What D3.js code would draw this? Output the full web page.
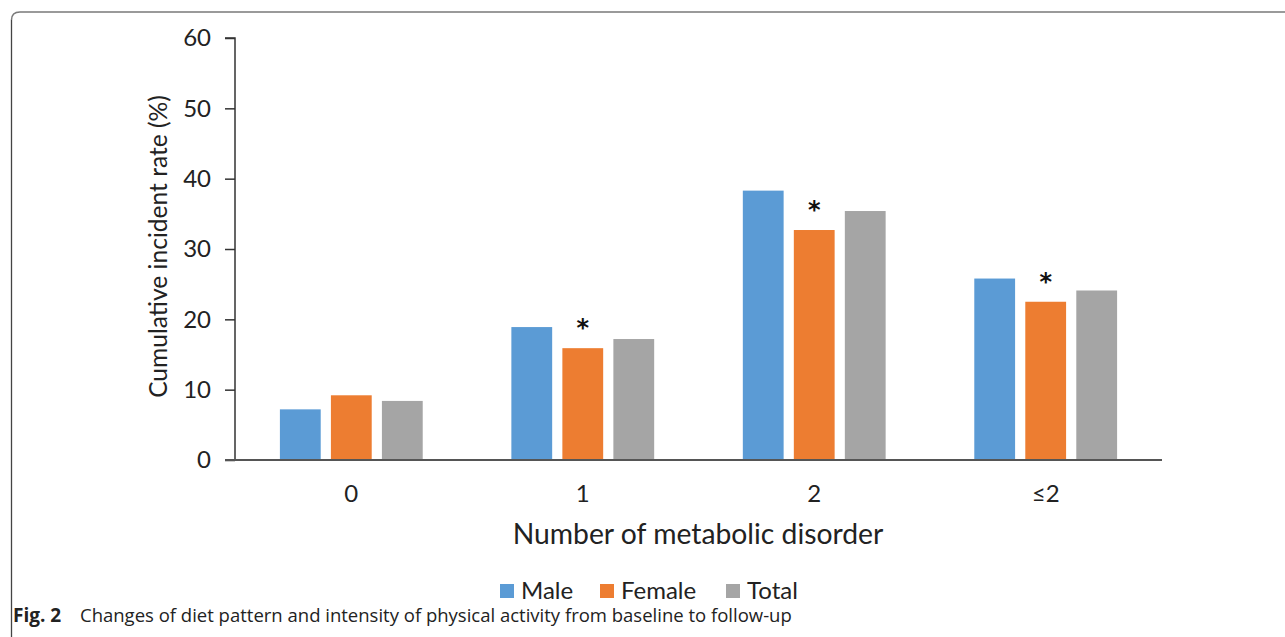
<!DOCTYPE html>
<html><head><meta charset="utf-8">
<script src="https://cdn.jsdelivr.net/npm/d3@7"></script>
<style>body{margin:0;background:#fff;}svg{display:block;}</style>
</head><body><svg id="c" width="1285" height="637"></svg>
<script>
const categories = ["0","1","2","≤2"];
const seriesNames = ["Male","Female","Total"];
const male = [7.2, 18.9, 38.3, 25.8];
const female = [9.2, 15.9, 32.7, 22.5];
const total = [8.4, 17.2, 35.4, 24.1];
const significant = [false, true, true, true];
const yTicks = [0,10,20,30,40,50,60];
const colors = ["#5b9bd5","#ed7d31","#a5a5a5"];

const svg = d3.select("#c");
const font = "Lato, 'Open Sans', sans-serif";
const L = 235, R = 1162, T = 38, B = 460;

function fit(sel, w){
  const base = +sel.attr("font-size");
  const len = sel.node().getComputedTextLength();
  if (len > 0) sel.attr("font-size", base * w / len);
  return sel;
}

// frame
svg.append("path").attr("d", "M11.5,20 Q11.5,12 20,12 L1285,12")
  .attr("fill","none").attr("stroke","#7a7a7a").attr("stroke-width",1.5);
svg.append("line").attr("x1",11.5).attr("x2",11.5).attr("y1",20).attr("y2",637)
  .attr("stroke","#444").attr("stroke-width",1.3);

const x0 = d3.scaleBand().domain(categories).range([L, R]).paddingInner(0.383).paddingOuter(0.194);
const x1 = d3.scaleBand().domain(seriesNames).range([0, x0.bandwidth()]).paddingInner(0.2);
const y = d3.scaleLinear().domain([0,60]).range([B, T]);

const data = categories.map((c,i)=>({c, vals:[male[i],female[i],total[i]], sig: significant[i]}));

const g = svg.append("g");
const grp = g.selectAll("g.grp").data(data).enter().append("g")
  .attr("transform", d=>`translate(${x0(d.c)},0)`);
grp.selectAll("rect").data(d=>d.vals.map((v,k)=>({v,k}))).enter().append("rect")
  .attr("x", d=>x1(seriesNames[d.k])).attr("width", x1.bandwidth())
  .attr("y", d=>y(d.v)).attr("height", d=>B - y(d.v)).attr("fill", d=>colors[d.k]);
grp.filter(d=>d.sig).append("text")
  .attr("x", x1("Female") + x1.bandwidth()/2)
  .attr("y", d=>y(d.vals[1]) - 12)
  .attr("text-anchor","middle").attr("font-family","'DejaVu Sans', sans-serif")
  .attr("font-weight","bold").attr("font-size",24).attr("fill","#111").text("*");

// y axis
const ya = d3.axisLeft(y).tickValues(yTicks).tickSize(10).tickPadding(14);
const yg = svg.append("g").attr("transform",`translate(${L},0)`).call(ya);
yg.select(".domain").attr("stroke","#333").attr("stroke-width",1.5).attr("d", `M-10,${T}H0V${B}`);
yg.selectAll(".tick line").attr("stroke","#333").attr("stroke-width",1.5);
yg.selectAll(".tick text").attr("font-family",font).attr("font-size",24).attr("fill","#222");

// x axis
const xa = d3.axisBottom(x0).tickSize(0).tickPadding(25);
const xg = svg.append("g").attr("transform",`translate(0,${B})`).call(xa);
xg.select(".domain").attr("stroke","#555").attr("stroke-width",2).attr("d", `M${L-10},0H${R}`);
xg.selectAll(".tick text").attr("font-family",font).attr("font-size",24).attr("fill","#222");

// titles
const yt = svg.append("text").attr("transform",`translate(167,246.5) rotate(-90)`)
  .attr("text-anchor","middle").attr("font-family",font).attr("font-size",24).attr("fill","#222")
  .text("Cumulative incident rate (%)");
fit(yt, 303);
const xt = svg.append("text").attr("x",698).attr("y",544).attr("text-anchor","middle")
  .attr("font-family",font).attr("font-size",26).attr("fill","#222").text("Number of metabolic disorder");
fit(xt, 371);

// legend
const legX = [500, 600, 726];
const lg = svg.append("g");
seriesNames.forEach((n,k)=>{
  lg.append("rect").attr("x",legX[k]).attr("y",584).attr("width",14).attr("height",14).attr("fill",colors[k]);
  lg.append("text").attr("x",legX[k]+21).attr("y",599).attr("font-family",font).attr("font-size",24)
    .attr("fill","#222").text(n);
});

// caption
const capFont = "'Open Sans', 'Noto Sans', sans-serif";
svg.append("text").attr("x",13).attr("y",622).attr("font-family",capFont)
  .attr("font-weight","bold").attr("font-size",19).attr("fill","#222").text("Fig. 2");
const c2 = svg.append("text").attr("x",80).attr("y",622).attr("font-family",capFont)
  .attr("font-size",17).attr("fill","#222")
  .text("Changes of diet pattern and intensity of physical activity from baseline to follow-up");
fit(c2, 712);
</script></body></html>
